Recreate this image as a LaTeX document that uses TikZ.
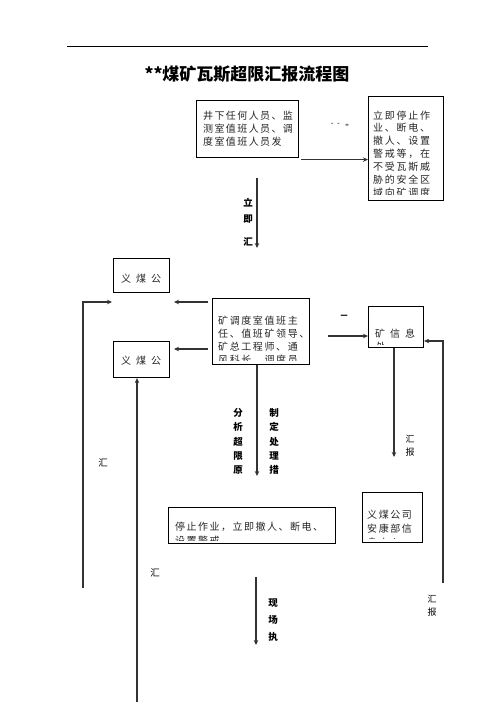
\documentclass[tikz,border=0pt]{standalone}
\usepackage{fontspec}
\setmainfont{Noto Sans CJK SC}
\usetikzlibrary{arrows.meta}
\tikzset{
  box/.style={draw=black, line width=1.1pt, inner sep=0pt, anchor=north west},
  conn/.style={draw=black!80, line width=1.1pt},
  arr/.style={conn, -{Stealth[length=5pt,width=4.5pt]}},
  txt/.style={inner sep=0pt, anchor=base west, text=black!85,
    font=\fontsize{10}{12}\selectfont\addfontfeatures{LetterSpace=14}},
  lbl/.style={inner sep=0pt, text=black, font=\fontsize{9.5}{11}\selectfont\bfseries},
}
\begin{document}
\begin{tikzpicture}[x=1pt,y=-1pt]
\useasboundingbox[fill=white] (0,0) rectangle (496,702);

% header rule and title
\draw[line width=1pt] (67,46) -- (428,46);
\node[inner sep=0pt, font=\fontsize{17}{20}\selectfont\bfseries] (title) at (247,74) {**煤矿瓦斯超限汇报流程图};

% boxes
\node[box, minimum width=102pt, minimum height=57pt] (A) at (196,100) {};
\node[box, minimum width=75pt, minimum height=104pt] (B) at (368,96) {};
\node[box, minimum width=56pt, minimum height=34pt] (C) at (113,258) {};
\node[box, minimum width=56pt, minimum height=36pt] (D) at (113,341) {};
\node[box, minimum width=97pt, minimum height=66pt] (E) at (212,298) {};
\node[box, minimum width=55pt, minimum height=41pt] (F) at (368,306) {};
\node[box, minimum width=60pt, minimum height=50pt] (G) at (362,492) {};
\node[box, minimum width=167pt, minimum height=36pt] (H) at (168,507) {};

% box texts
\foreach \t [count=\i] in {井下任何人员、监,测室值班人员、调,度室值班人员发}
  \node[txt] at (203,{119.8+(\i-1)*12.6}) {\t};

\begin{scope}
\clip ([shift={(0.6pt,-0.6pt)}]B.north west) rectangle ([shift={(-0.6pt,7pt)}]B.south east);
\foreach \t [count=\i] in {立即停止作,业、断电、,撤人、设置,警戒等，在,不受瓦斯威,胁的安全区,域向矿调度}
  \node[txt, font=\fontsize{10}{12}\selectfont\addfontfeatures{LetterSpace=17}] at (373,{119+(\i-1)*12.9}) {\t};
\end{scope}

\node[txt, anchor=center] at (141,279) {义\hspace{5pt}煤\hspace{5pt}公};
\node[txt, anchor=center] at (141,361) {义\hspace{5pt}煤\hspace{5pt}公};

\begin{scope}
\clip ([shift={(0.6pt,-0.6pt)}]E.north west) rectangle ([shift={(-0.6pt,4.5pt)}]E.south east);
\foreach \t [count=\i] in {矿调度室值班主,任、值班矿领导、,矿总工程师、通,风科长、调度员}
  \node[txt, font=\fontsize{10}{12}\selectfont\addfontfeatures{LetterSpace=16}] at (218,{324+(\i-1)*13.3}) {\t};
\end{scope}

\begin{scope}
\clip ([shift={(0.6pt,-0.6pt)}]F.north west) rectangle ([shift={(-0.6pt,3.5pt)}]F.south east);
\node[txt] at (375,337) {矿\hspace{5pt}信\hspace{5pt}息};
\node[txt] at (376,350.5) {处};
\end{scope}

\begin{scope}
\clip ([shift={(0.6pt,-0.6pt)}]G.north west) rectangle ([shift={(-0.6pt,4.5pt)}]G.south east);
\foreach \t [count=\i] in {义煤公司,安康部信,息中心}
  \node[txt, font=\fontsize{10}{12}\selectfont\addfontfeatures{LetterSpace=16}] at (367,{518.8+(\i-1)*14}) {\t};
\end{scope}

\begin{scope}
\clip ([shift={(0.6pt,-0.6pt)}]H.north west) rectangle ([shift={(-0.6pt,4pt)}]H.south east);
\node[txt, font=\fontsize{10}{12}\selectfont\addfontfeatures{LetterSpace=15}] at (175,530.8) {停止作业，立即撤人、断电、};
\node[txt, font=\fontsize{10}{12}\selectfont\addfontfeatures{LetterSpace=15}] at (175,544.5) {设置警戒};
\end{scope}

% connectors
\coordinate (ab) at ([xshift=2pt,yshift=-1.5pt]A.south east);
\draw[arr] (ab) -- (ab -| B.west);
\node[inner sep=0pt, font=\fontsize{6}{7}\selectfont\bfseries, text=black!80] (ablbl) at (340,125) {-\ \ \ -\ \ \ \ ,,};

\coordinate (v1s) at (257,178);
\coordinate (v1e) at (257,248);
\draw[arr] (v1s) -- (v1e);
\node[lbl] (l1) at (248,203) {立};
\node[lbl] (l2) at (248,219) {即};
\node[lbl] (l3) at (248,242) {汇};

\coordinate (e1) at (208,302);
\coordinate (c1) at (174,302);
\draw[arr] (e1) -- (c1);
\coordinate (e2) at (208,349);
\coordinate (d1) at (174,349);
\draw[arr] (e2) -- (d1);

\coordinate (L0) at (83,588);
\coordinate (L1) at (83,302);
\coordinate (L2) at (112,302);
\draw[arr] (L0) -- (L1) -- (L2);
\node[lbl, font=\fontsize{9.5}{11}\selectfont] (l4) at (103,463) {汇};

\coordinate (M0) at (137,702);
\draw[arr] (M0) -- (M0 |- D.south);
\node[lbl, font=\fontsize{9.5}{11}\selectfont] (l5) at (155,573) {汇};

\coordinate (ef) at (328,336);
\draw[arr] (ef) -- (ef -| F.west);
\node[inner sep=0pt, font=\fontsize{7}{8}\selectfont\bfseries] (eflbl) at (344,317) {一};

\coordinate (R0) at (443,583);
\coordinate (R1) at (443,341);
\draw[arr] (R0) -- (R1) -- (R1 -| F.east);
\node[lbl, font=\fontsize{9}{11}\selectfont] (l6) at (432,599) {汇};
\node[lbl, font=\fontsize{9}{11}\selectfont] (l7) at (432,612) {报};

\coordinate (f1) at (394,348);
\coordinate (f2) at (394,457);
\draw[arr] (f1) -- (f2);
\node[lbl, font=\fontsize{9}{11}\selectfont] (l8) at (410,439) {汇};
\node[lbl, font=\fontsize{9}{11}\selectfont] (l9) at (410,452) {报};

\coordinate (g1) at (257,365);
\coordinate (g2) at (257,476);
\draw[arr] (g1) -- (g2);
\foreach \t [count=\i] in {分,析,超,限,原}
  \node[lbl] at (238,{413+(\i-1)*14.3}) {\t};
\foreach \t [count=\i] in {制,定,处,理,措}
  \node[lbl] at (274,{413+(\i-1)*14.3}) {\t};

\coordinate (h1) at (256,577);
\coordinate (h2) at (256,645);
\draw[arr] (h1) -- (h2);
\node[lbl] (l10) at (273,603) {现};
\node[lbl] (l11) at (273,620) {场};
\node[lbl] (l12) at (273,637) {执};
\end{tikzpicture}
\end{document}
